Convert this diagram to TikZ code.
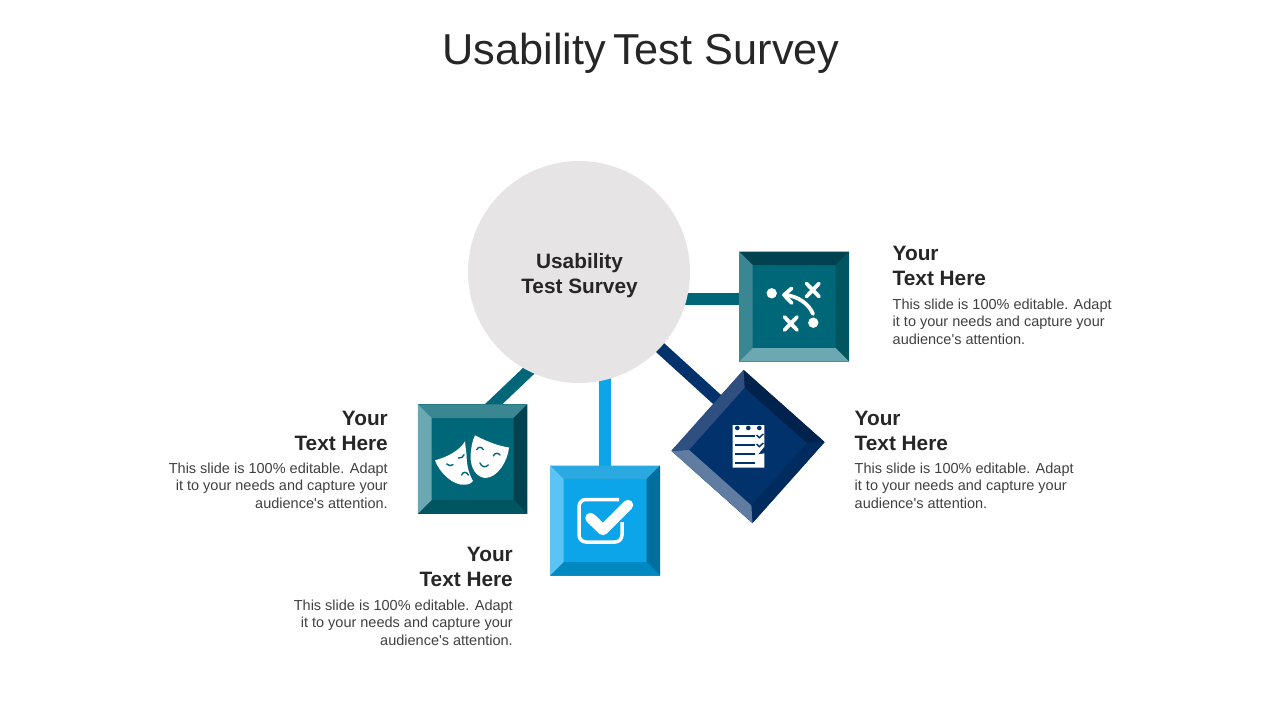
\documentclass[tikz,border=0pt]{standalone}
\usepackage{fontspec}
\setmainfont[Ligatures=TeXOff]{Liberation Sans}
\usetikzlibrary{backgrounds}

\definecolor{hubgray}{HTML}{E6E4E5}
\definecolor{inktext}{HTML}{262626}
\definecolor{bodytext}{HTML}{404040}
\definecolor{tealmain}{HTML}{006778}
\definecolor{tealdeep}{HTML}{00424F}
\definecolor{tealdark}{HTML}{005561}
\definecolor{tealmid}{HTML}{3A8692}
\definecolor{teallight}{HTML}{6BA8B2}
\definecolor{navymain}{HTML}{01326B}
\definecolor{navydeep}{HTML}{00224D}
\definecolor{navydark}{HTML}{002B5E}
\definecolor{navymid}{HTML}{2F4F80}
\definecolor{navylight}{HTML}{607CA0}
\definecolor{skymain}{HTML}{0CA5E9}
\definecolor{skytop}{HTML}{29A9E0}
\definecolor{skyright}{HTML}{006F9F}
\definecolor{skybottom}{HTML}{0088C0}
\definecolor{skyleft}{HTML}{5AC5F5}

\tikzset{
  outerbox/.style={minimum size=#1,inner sep=0pt,outer sep=0pt},
  innerbox/.style={minimum size=#1,inner sep=0pt,outer sep=0pt},
  spoke/.style={line width=12pt,line cap=rect},
  headtext/.style={font=\bfseries\fontsize{20.8}{25}\selectfont,text=inktext,align=#1,inner sep=0pt},
  bodyblock/.style={font=\fontsize{14.5}{17.5}\selectfont,text=bodytext,align=#1,inner sep=0pt},
  iconline/.style={draw=white,line width=3.8pt,line cap=round,line join=round},
  iconcut/.style={draw=#1,line width=1.4pt,line cap=round}
}

% four bevels of a tile: top, right, bottom, left
\newcommand{\bevel}[5]{
  \fill[#2] (#1.north west) -- (#1.north east) -- (#1i.north east) -- (#1i.north west) -- cycle;
  \fill[#3] (#1.north east) -- (#1.south east) -- (#1i.south east) -- (#1i.north east) -- cycle;
  \fill[#4] (#1.south east) -- (#1.south west) -- (#1i.south west) -- (#1i.south east) -- cycle;
  \fill[#5] (#1.south west) -- (#1.north west) -- (#1i.north west) -- (#1i.south west) -- cycle;
}

\begin{document}
\begin{tikzpicture}[x=1pt,y=-1pt]
  \useasboundingbox (0,0) rectangle (1280,720);

  \node[text=inktext,font=\fontsize{43.3}{50}\selectfont] (title) at (641,53) {Usability\hspace{-5pt} Test Survey};

  \node[circle,fill=hubgray,minimum size=222pt,inner sep=0pt,outer sep=0pt] (hub) at (579,272) {};
  \node[headtext=center] (hublabel) at (579.5,276) {Usability\\Test Survey};

  % tiles
  \node[outerbox=110pt,fill=tealmain] (play) at (794,306.5) {};
  \node[innerbox=83pt,fill=tealmain] (playi) at (794,306.5) {};
  \bevel{play}{tealdeep}{tealdark}{teallight}{tealmid}

  \node[outerbox=108.5pt,rotate=-41.7,fill=navymain] (note) at (748,446.5) {};
  \node[innerbox=83.5pt,rotate=-41.7,fill=navymain] (notei) at (748,446.5) {};
  \bevel{note}{navydeep}{navydark}{navylight}{navymid}

  \node[outerbox=109.5pt,fill=tealmain] (mask) at (472.5,459) {};
  \node[innerbox=82pt,fill=tealmain] (maski) at (472.5,459) {};
  \bevel{mask}{tealmid}{tealdeep}{tealdark}{teallight}

  \node[outerbox=110pt,fill=skymain] (check) at (605,520.5) {};
  \node[innerbox=83pt,fill=skymain] (checki) at (605,520.5) {};
  \bevel{check}{skytop}{skyright}{skybottom}{skyleft}

  % spokes go under the hub and the tiles
  \begin{pgfonlayer}{background}
    \draw[spoke,tealmain] (hub.-14.5) -- (hub.-14.5 -| play.west);
    \draw[spoke,navymain] (hub.-43.5) -- (note.165);
    \draw[spoke,skymain] (hub.-76.4 -| check.north) -- (check.north);
    \draw[spoke,tealmain] (hub.-117) -- (mask.69);
  \end{pgfonlayer}

  % play icon
  \fill[white] (771.7,293.3) circle (5.2) (813.3,322.7) circle (5.2);
  \draw[iconline] (806.5,283.5) -- (819,296.5) (819,283.5) -- (806.5,296.5);
  \draw[iconline] (784.5,317) -- (797,330) (797,317) -- (784.5,330);
  \draw[iconline] (791.7,288.3) -- (784,295) -- (791.7,303);
  \draw[iconline] (785,295) .. controls (798,296) and (809,304) .. (813,314);

  % mask icon
  \fill[white] (475,435.3) .. controls (486,441) and (498,446) .. (509,447.5) .. controls (508,460) and (498,478) .. (485,478) .. controls (476,477) and (470.5,468) .. (470.5,456) .. controls (471,449) and (472,441) .. (475,435.3) -- cycle;
  \fill[white] (465,441.3) .. controls (460,450) and (448,457) .. (435,460.3) .. controls (439,472) and (453,486) .. (465,484.7) .. controls (469,484.5) and (472,483) .. (473,481) .. controls (469,474) and (466.5,465) .. (466.7,456) .. controls (466,451) and (465.5,446) .. (465,441.3) -- cycle;
  \draw[iconcut=tealmain] (476.7,449.7) .. controls (478.5,446.5) and (481.5,446.5) .. (483.3,449.7);
  \draw[iconcut=tealmain] (493.3,456) .. controls (495,452.5) and (498,452.5) .. (500,455);
  \draw[iconcut=tealmain] (480,463) .. controls (481.5,467) and (485.5,468) .. (488.3,465);
  \draw[iconcut=tealmain] (458.3,458) .. controls (461,458.5) and (463.5,457) .. (464,454.7);
  \draw[iconcut=tealmain] (446.7,464) .. controls (448.5,466) and (451.5,466) .. (453,464.7);
  \draw[iconcut=tealmain] (461.7,475) .. controls (462.5,471.5) and (467,471.5) .. (468.3,475);

  % note icon
  \fill[white] (732.7,425) -- (764.3,425) -- (764.3,446.7) -- (758,454.5) -- (764.3,453.3) -- (764.3,467.7) -- (732.7,467.7) -- cycle;
  \foreach \dotx in {737.3,748.3,759.3}
    \fill[navymain] (\dotx,428) circle (2.3);
  \foreach \liney in {436,445,454,463}
    \draw[navymain,line width=1.4pt] (735,\liney) -- (755,\liney);
  \draw[navymain,line width=1.4pt] (756.7,435) -- (759.3,437.7) -- (763.3,434);
  \draw[navymain,line width=1.4pt] (756.7,444) -- (759.3,446.7) -- (763.3,443);

  % check icon
  \draw[white,line width=3.5pt,rounded corners=7pt] (619,499.5) -- (579,499.5) -- (579,542) -- (622,542) -- (622,522);
  \draw[white,line width=10.5pt,line cap=round,line join=round] (590.5,518) -- (603,530) -- (628,505);

  % labels
  \node[headtext=left,anchor=north west] (playhead) at (892.5,246) {Your\\Text Here};
  \node[bodyblock=left,anchor=north west] (playbody) at (892.5,298.3) {This slide is 100\% editable. Adapt\\it to your needs and capture your\\audience's attention.};

  \node[headtext=left,anchor=north west] (notehead) at (854.5,411) {Your\\Text Here};
  \node[bodyblock=left,anchor=north west] (notebody) at (854.5,462.3) {This slide is 100\% editable. Adapt\\it to your needs and capture your\\audience's attention.};

  \node[headtext=right,anchor=north east] (maskhead) at (388,411) {Your\\Text Here};
  \node[bodyblock=right,anchor=north east] (maskbody) at (388,462.3) {This slide is 100\% editable. Adapt\\it to your needs and capture your\\audience's attention.};

  \node[headtext=right,anchor=north east] (checkhead) at (513,547) {Your\\Text Here};
  \node[bodyblock=right,anchor=north east] (checkbody) at (513,599.3) {This slide is 100\% editable. Adapt\\it to your needs and capture your\\audience's attention.};
\end{tikzpicture}
\end{document}
